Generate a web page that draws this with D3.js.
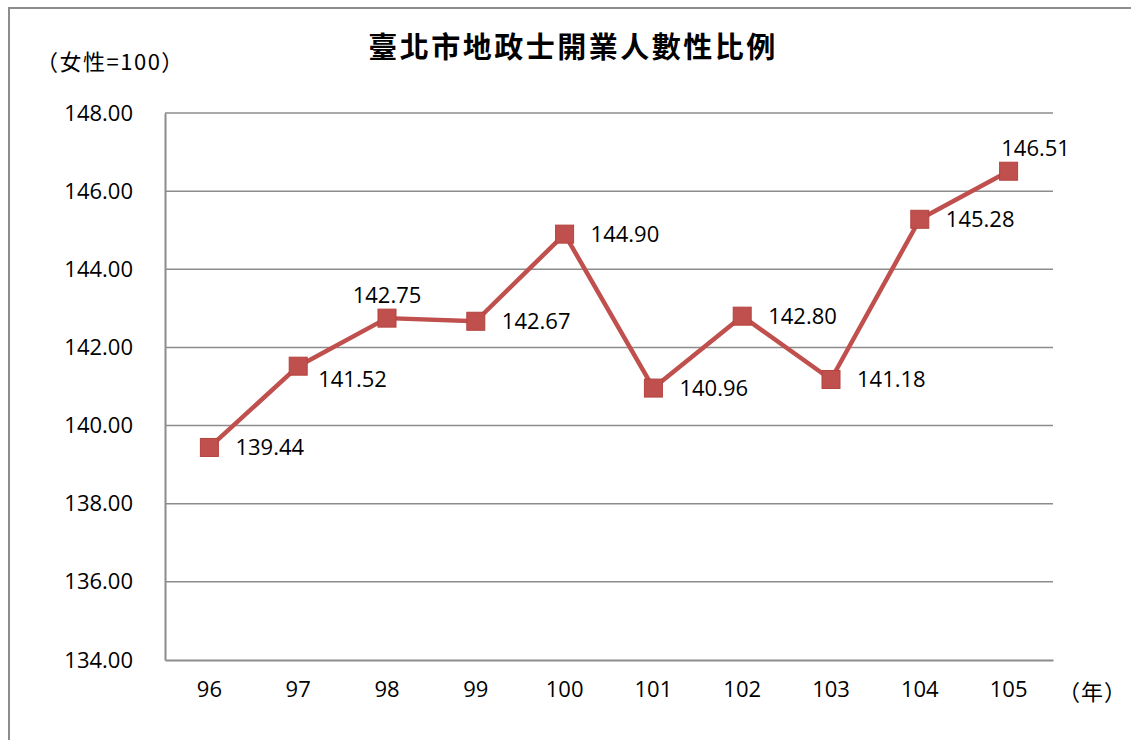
<!DOCTYPE html>
<html>
<head>
<meta charset="utf-8">
<script src="https://cdn.jsdelivr.net/npm/d3@7"></script>
<style>
  body { margin: 0; background: #fff; }
</style>
</head>
<body>
<div id="chart"></div>
<script>
var years = ["96", "97", "98", "99", "100", "101", "102", "103", "104", "105"];
var ratios = [139.44, 141.52, 142.75, 142.67, 144.90, 140.96, 142.80, 141.18, 145.28, 146.51];
var yTicks = [134, 136, 138, 140, 142, 144, 146, 148];
// where each label sits relative to its point
var labelPos = ["right", "below", "above", "right", "right", "right", "right", "right", "right", "above"];

var width = 1131,
    height = 740;

var svg = d3.select("#chart")
    .append("svg")
    .attr("width", width)
    .attr("height", height);

// outer frame (left + top edges visible)
svg.append("path")
    .attr("d", "M9,740 V8 H1131")
    .attr("fill", "none")
    .attr("stroke", "#8c8c8c")
    .attr("stroke-width", 2);

var plotLeft = 165, plotRight = 1053, plotTop = 113, plotBottom = 660;

var x = d3.scaleBand()
    .domain(years)
    .range([plotLeft, plotRight]);

var y = d3.scaleLinear()
    .domain([134, 148])
    .range([plotBottom, plotTop]);

var numFont = "'Open Sans', 'Liberation Sans', sans-serif";
var cjkFont = "'Noto Sans CJK TC', serif";

// gridlines
svg.append("g")
    .selectAll("line")
    .data(yTicks.slice(1))
    .enter()
    .append("line")
    .attr("x1", plotLeft)
    .attr("x2", plotRight)
    .attr("y1", function (d) { return y(d); })
    .attr("y2", function (d) { return y(d); })
    .style("stroke", "#8c8c8c")
    .style("stroke-width", 1.5);

// y axis
var yAxis = svg.append("g")
    .attr("transform", "translate(" + plotLeft + ",0)")
    .call(d3.axisLeft(y).tickValues(yTicks).tickSize(0).tickPadding(32).tickFormat(d3.format(".2f")));
yAxis.select(".domain").attr("stroke", "#8c8c8c").attr("stroke-width", 2);
yAxis.selectAll("text")
    .style("font-family", numFont)
    .style("font-size", "22px")
    .attr("fill", "#000");

// x axis
var xAxis = svg.append("g")
    .attr("transform", "translate(0," + plotBottom + ")")
    .call(d3.axisBottom(x).tickSize(0).tickPadding(21));
xAxis.select(".domain").attr("stroke", "#8c8c8c").attr("stroke-width", 2);
xAxis.selectAll("text")
    .style("font-family", numFont)
    .style("font-size", "22px")
    .attr("fill", "#000");

var data = years.map(function (d, i) { return { year: d, value: ratios[i], pos: labelPos[i] }; });
var cx = function (d) { return x(d.year) + x.bandwidth() / 2; };

var line = d3.line()
    .x(cx)
    .y(function (d) { return y(d.value); });

svg.append("path")
    .datum(data)
    .attr("d", line)
    .attr("fill", "none")
    .attr("stroke", "#C0504D")
    .attr("stroke-width", 4.5)
    .attr("stroke-linejoin", "round");

svg.append("g")
    .selectAll("rect")
    .data(data)
    .enter()
    .append("rect")
    .attr("x", function (d) { return cx(d) - 9; })
    .attr("y", function (d) { return y(d.value) - 9; })
    .attr("width", 18)
    .attr("height", 18)
    .attr("fill", "#C0504D")
    .attr("stroke", "#B4433F")
    .attr("stroke-width", 1);

// data labels
svg.append("g")
    .selectAll("text")
    .data(data)
    .enter()
    .append("text")
    .attr("x", function (d) {
        if (d.pos == "above") return cx(d) + (d.year == "105" ? 27 : 0);
        if (d.pos == "below") return cx(d) + 20;
        return cx(d) + 26;
    })
    .attr("y", function (d) {
        if (d.pos == "above") return y(d.value) - 21;
        if (d.pos == "below") return y(d.value) + 15;
        return y(d.value) + 2;
    })
    .attr("text-anchor", function (d) { return d.pos == "above" ? "middle" : "start"; })
    .attr("dominant-baseline", "middle")
    .style("font-family", numFont)
    .style("font-size", "22px")
    .text(function (d) { return d.value.toFixed(2); });

// title
svg.append("text")
    .attr("x", 573)
    .attr("y", 50)
    .attr("text-anchor", "middle")
    .attr("dominant-baseline", "middle")
    .style("font-family", cjkFont)
    .style("font-weight", "bold")
    .style("font-size", "29px")
    .style("letter-spacing", "2.5px")
    .text("臺北市地政士開業人數性比例");

// unit labels
svg.append("text")
    .attr("x", 36)
    .attr("y", 64)
    .attr("dominant-baseline", "middle")
    .style("font-family", cjkFont)
    .style("font-size", "22px")
    .style("letter-spacing", "1.5px")
    .text("（女性=100）");

svg.append("text")
    .attr("x", 1058)
    .attr("y", 694)
    .attr("dominant-baseline", "middle")
    .style("font-family", cjkFont)
    .style("font-size", "22px")
    .style("letter-spacing", "1px")
    .text("（年）");
</script>
</body>
</html>
